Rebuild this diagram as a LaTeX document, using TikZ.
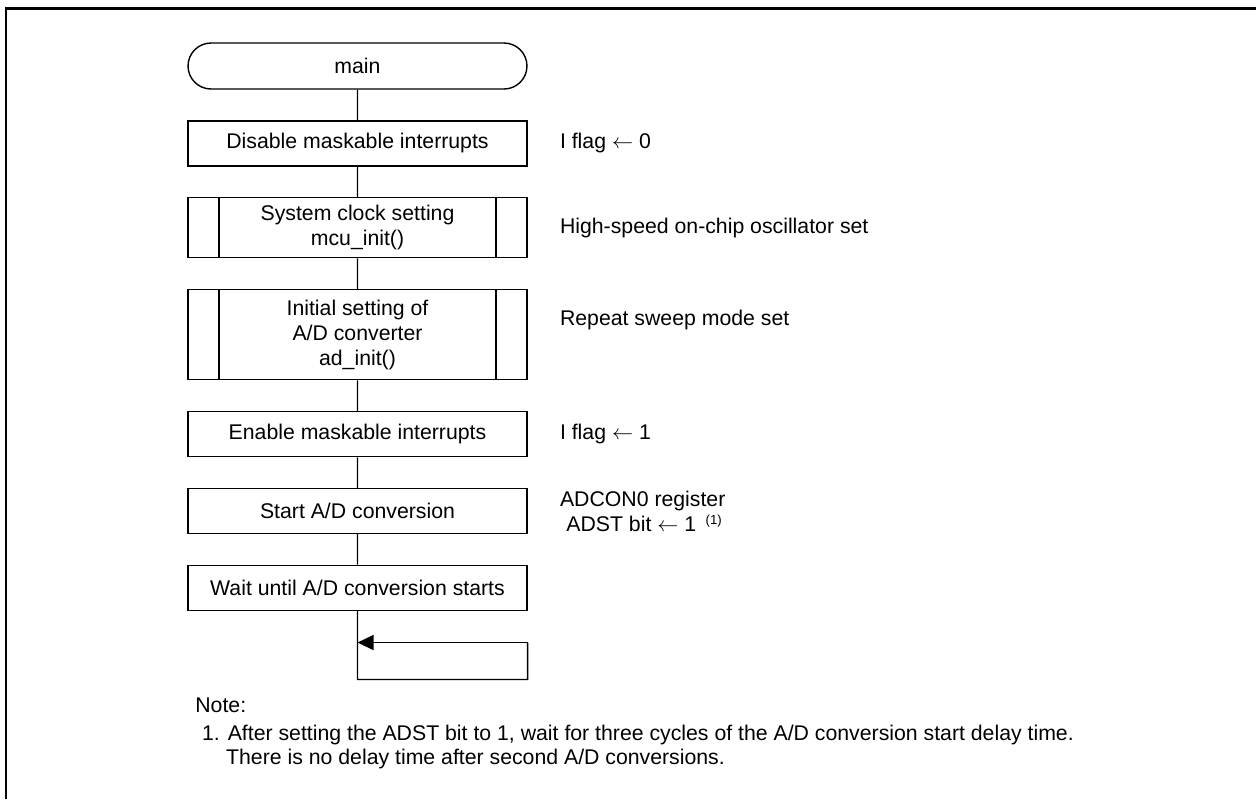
\documentclass[tikz,border=0pt]{standalone}
\usepackage{fontspec}
\setmainfont{Liberation Sans}
\usetikzlibrary{positioning, shapes.misc, arrows.meta}

\tikzset{
  box/.style={draw, line width=0.8pt, minimum width=6.78cm, minimum height=0.9cm,
    align=center, inner sep=0pt},
  term/.style={box, rounded rectangle, minimum height=0.92cm},
  subr/.style={box, path picture={
    \draw[line width=0.8pt]
      ([xshift=0.62cm]path picture bounding box.north west) --
      ([xshift=0.62cm]path picture bounding box.south west)
      ([xshift=-0.62cm]path picture bounding box.north east) --
      ([xshift=-0.62cm]path picture bounding box.south east);
  }},
  remark/.style={align=left, inner sep=0pt, anchor=west},
  flow/.style={line width=0.8pt},
}

\begin{document}
\begin{tikzpicture}[x=0.02cm, y=-0.02cm, font=\fontsize{12.1}{14.2}\selectfont,
    node distance=0.61cm and 0.64cm]
  \useasboundingbox (0,0) rectangle (1256,799);
  % frame
  \draw[line width=1.7pt] (6,799) -- (6,8) -- (1256,8);

  % flow column
  \node[term] (main) at (357.5,66) {main};
  \node[box, below=of main] (dis) {Disable maskable interrupts};
  \node[subr, minimum height=1.2cm, below=of dis] (clk) {System clock setting\\mcu\_init()};
  \node[subr, minimum height=1.8cm, below=of clk] (adi) {Initial setting of\\A/D converter\\ad\_init()};
  \node[box, below=of adi] (ena) {Enable maskable interrupts};
  \node[box, below=of ena] (sta) {Start A/D conversion};
  \node[box, below=of sta] (wai) {Wait until A/D conversion starts};

  % remarks
  \node[remark, right=of dis] (flg0) {I flag $\leftarrow$ 0};
  \node[remark, right=of clk] (osc) {High-speed on-chip oscillator set};
  \node[remark, right=of adi, yshift=0.3cm] (swp) {Repeat sweep mode set};
  \node[remark, right=of ena] (flg1) {I flag $\leftarrow$ 1};
  \node[remark, right=of sta] (adst) {ADCON0 register\\
    \hspace*{0.3em}ADST bit $\leftarrow$ 1\hspace{0.45em}\raisebox{0.55ex}{\fontsize{7.5}{8}\selectfont(1)}};

  % loop
  \coordinate (jn) at ([yshift=-0.63cm]wai.south);
  \coordinate (lp) at ([yshift=-1.37cm]wai.south);
  \coordinate (rt) at (wai.east |- jn);

  \draw[flow]
    (main) -- (dis)
    (dis) -- (clk)
    (clk) -- (adi)
    (adi) -- (ena)
    (ena) -- (sta)
    (sta) -- (wai)
    (wai) -- (lp) -| (rt);
  \draw[flow, -{Triangle[length=0.32cm, width=0.3cm]}]
    (rt) -- (jn);

  % note
  \node[remark] (note) at (195,705) {Note:};
  \node[remark, anchor=north west, font=\fontsize{12.1}{13.4}\selectfont]
    (notes) at (195,725) {\hspace*{0.32em}1. After setting the ADST bit to 1, wait for three cycles of the A/D conversion start delay time.\\
    \hspace*{1.45em}There is no delay time after second A/D conversions.};
\end{tikzpicture}
\end{document}
